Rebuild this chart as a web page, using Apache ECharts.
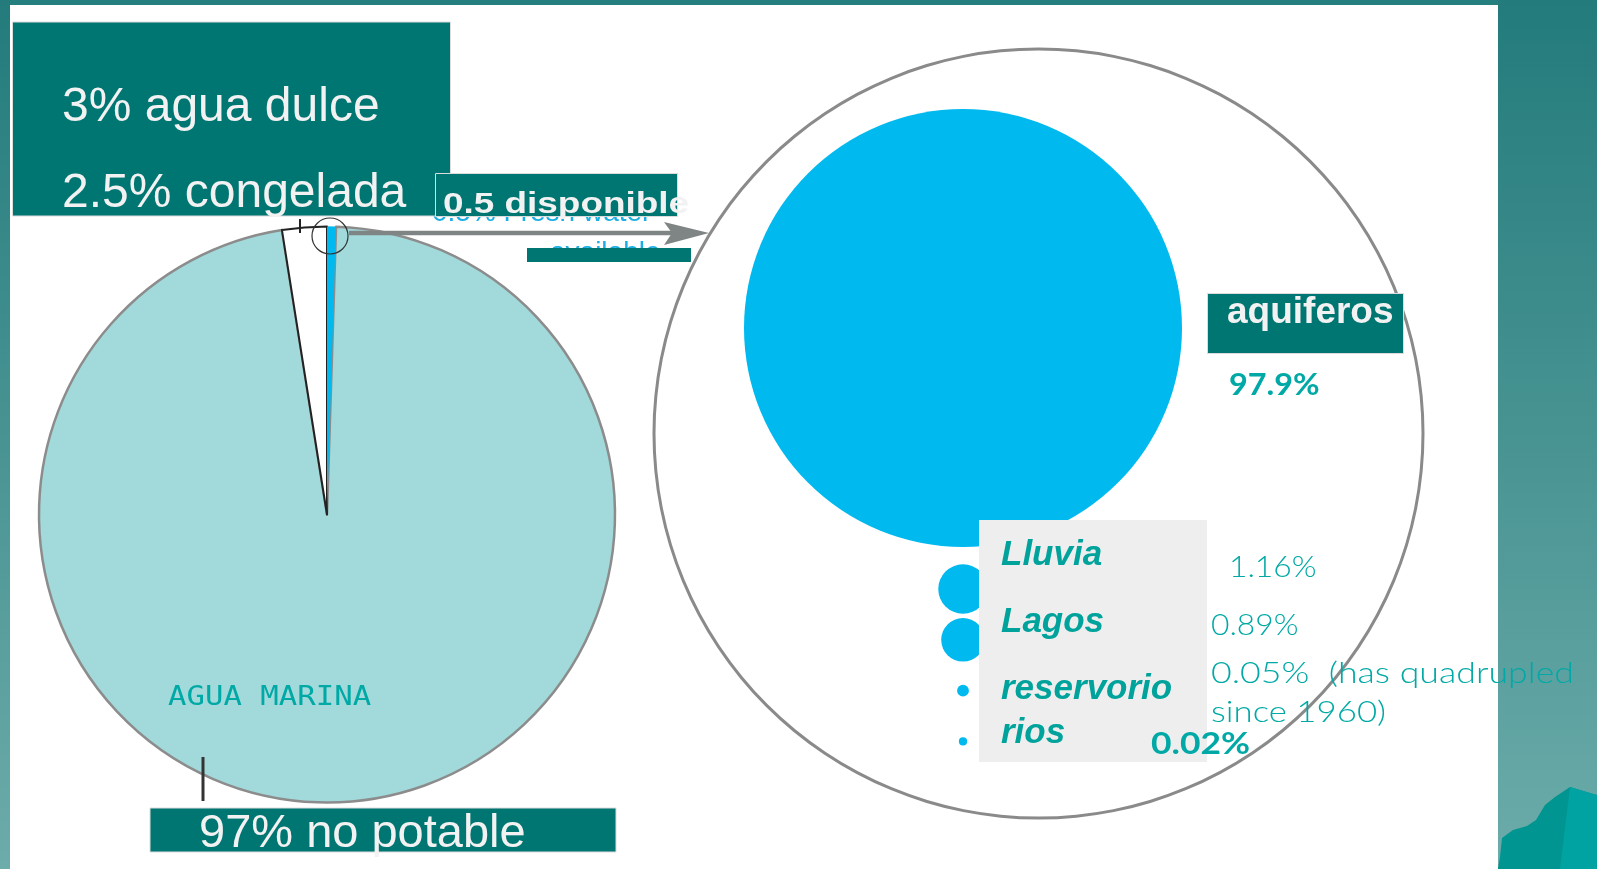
<!DOCTYPE html>
<html>
<head>
<meta charset="utf-8">
<script src="https://cdn.jsdelivr.net/npm/echarts@6.0.0/dist/echarts.min.js"></script>
<style>
  html, body { margin: 0; padding: 0; background: #fff; }
  #chart { width: 1597px; height: 869px; }
</style>
</head>
<body>
<div id="chart"></div>
<script>
  // left pie: all the water on earth (%)
  const waterNames = ["disponible", "AGUA MARINA", "congelada"];
  const waterValues = [0.5, 97, 2.5];
  // right bubbles: where the available fresh water is (%)
  const sourceNames = ["aquiferos", "Lluvia", "Lagos", "reservorio", "rios"];
  const sourceValues = [97.9, 1.16, 0.89, 0.05, 0.02];
  const reservoirNote = ["(has quadrupled", "since 1960)"];

  const TEAL = "#007673";
  const SEA = "#a2dadb";
  const BLUE = "#00b9ef";
  const TEXT_TEAL = "#00a9a6";

  const chart = echarts.init(document.getElementById("chart"));

  const fresh = waterValues[0] + waterValues[2];
  const bubbleSize = (d) => 436 * Math.sqrt(d[2] / sourceValues[0]) + 2;
  const pct = (v) => v + "%";

  const panelFill = () =>
    new echarts.graphic.LinearGradient(0, 0, 0, 1, [
      { offset: 0, color: "#237b7b" },
      { offset: 1, color: "#6cacaa" },
    ]);

  const txt = (text, x, y, size, opts) => ({
    type: "text",
    x: x,
    y: y,
    z: (opts && opts.z) || 10,
    scaleX: (opts && opts.scaleX) || 1,
    style: Object.assign(
      {
        text: text,
        x: 0,
        y: 0,
        fontSize: size,
        fontFamily: "Liberation Sans",
        fill: "#f2f2f2",
        verticalAlign: "middle",
        align: "left",
      },
      opts && opts.style
    ),
  });

  const italicStyle = { fill: "#00a39c", fontWeight: "bold", fontStyle: "italic" };
  const lightStyle = { fill: TEXT_TEAL, fontFamily: "Lato", fontWeight: 300 };

  const graphic = [
    // slide frame
    { type: "rect", z: 0, shape: { x: 0, y: 0, width: 1597, height: 5 }, style: { fill: "#267f7f" } },
    { type: "rect", z: 0, shape: { x: 0, y: 0, width: 10, height: 869 }, style: { fill: panelFill() } },
    { type: "rect", z: 0, shape: { x: 1498, y: 0, width: 99, height: 869 }, style: { fill: panelFill() } },
    {
      type: "polygon",
      z: 1,
      shape: {
        points: [[1498, 869], [1500, 857], [1502, 838], [1513, 830], [1527, 826], [1536, 820],
          [1545, 805], [1555, 797], [1570, 787], [1590, 793], [1597, 795], [1597, 869]],
      },
      style: { fill: "#009590" },
    },
    {
      type: "polygon",
      z: 1,
      shape: { points: [[1570, 787], [1590, 793], [1597, 795], [1597, 869], [1560, 869]] },
      style: { fill: "#00a3a2" },
    },

    // english caption, mostly hidden under the boxes
    txt("0.5% Fresh water", 432, 213, 28, { z: 4, style: { fill: "#1aaee5" } }),
    txt("available", 550, 253, 28, { z: 4, style: { fill: "#1aaee5" } }),

    // title boxes
    { type: "rect", z: 5, shape: { x: 12.5, y: 22, width: 438, height: 194 }, style: { fill: TEAL, stroke: "#dcdcdc", lineWidth: 1 } },
    { type: "rect", z: 5, shape: { x: 435.5, y: 173.5, width: 242, height: 43 }, style: { fill: TEAL, stroke: "#dcdcdc", lineWidth: 1 } },
    { type: "rect", z: 5, shape: { x: 527, y: 248, width: 164, height: 14 }, style: { fill: TEAL } },
    { type: "rect", z: 5, shape: { x: 150, y: 808, width: 466, height: 44 }, style: { fill: TEAL, stroke: "#dcdcdc", lineWidth: 1 } },
    { type: "rect", z: 5, shape: { x: 1207.5, y: 293.5, width: 196, height: 60 }, style: { fill: TEAL, stroke: "#dcdcdc", lineWidth: 1 } },
    { type: "rect", z: 5, shape: { x: 979, y: 520, width: 228, height: 242 }, style: { fill: "#eeeeee" } },

    // zoom marker and arrow from the pie to the detail circle
    { type: "circle", z: 6, shape: { cx: 330, cy: 236, r: 18 }, style: { fill: null, stroke: "#333", lineWidth: 1.2 } },
    { type: "line", z: 6, shape: { x1: 300, y1: 219, x2: 300, y2: 233 }, style: { stroke: "#222", lineWidth: 2 } },
    { type: "line", z: 6, shape: { x1: 349, y1: 233, x2: 672, y2: 233 }, style: { stroke: "#7f8485", lineWidth: 4.5 } },
    { type: "polygon", z: 6, shape: { points: [[664, 222], [709, 233], [664, 245], [672, 233]] }, style: { fill: "#7f8485" } },
    { type: "line", z: 6, shape: { x1: 203, y1: 757, x2: 203, y2: 801 }, style: { stroke: "#333", lineWidth: 3 } },

    // left pie captions
    txt(100 - waterValues[1] + "% agua dulce", 62, 108, 48),
    txt(waterValues[2] + "% " + waterNames[2], 62, 194, 48),
    txt(waterValues[0] + " " + waterNames[0], 443, 205, 30, { scaleX: 1.23, style: { fontWeight: "bold" } }),
    txt(waterValues[1] + "% no potable", 199, 834, 47),
    txt(waterNames[1], 168, 698, 26, { scaleX: 1.18, style: { fill: TEXT_TEAL, fontFamily: "DejaVu Sans Mono" } }),

    // right side captions
    txt(sourceNames[0], 1227, 313, 37, { style: { fontWeight: "bold" } }),
    txt(pct(sourceValues[0]), 1229, 385, 30, { scaleX: 1.08, style: { fill: TEXT_TEAL, fontWeight: "bold", fontFamily: "Lato" } }),
    txt(sourceNames[1], 1001, 555, 35, { style: italicStyle }),
    txt(sourceNames[2], 1001, 622, 35, { style: italicStyle }),
    txt(sourceNames[3], 1001, 689, 35, { style: italicStyle }),
    txt(sourceNames[4], 1001, 733, 35, { style: italicStyle }),
    txt(pct(sourceValues[1]), 1229, 567, 30, { scaleX: 1.06, style: lightStyle }),
    txt(pct(sourceValues[2]), 1211, 625, 30, { scaleX: 1.06, style: lightStyle }),
    txt(pct(sourceValues[3]) + "  " + reservoirNote[0], 1211, 673, 30, { scaleX: 1.19, style: lightStyle }),
    txt(reservoirNote[1], 1211, 712, 30, { scaleX: 1.16, style: lightStyle }),
    txt(pct(sourceValues[4]), 1151, 744, 30, { scaleX: 1.18, style: { fill: TEXT_TEAL, fontFamily: "Lato", fontWeight: "bold" } }),
  ];

  const pieData = (layer) =>
    waterNames.map((name, i) => {
      const item = { name: name, value: waterValues[i] };
      if (layer === "top") {
        item.itemStyle = { color: i === 0 ? BLUE : "transparent", borderWidth: 0 };
      } else if (i === 0) {
        item.itemStyle = { color: BLUE };
      } else if (i === 1) {
        item.itemStyle = { color: SEA, borderColor: "#8c8c8c", borderWidth: 2.5 };
      } else {
        item.itemStyle = { color: "#fff", borderColor: "#222", borderWidth: 2 };
      }
      return item;
    });

  const option = {
    animation: false,
    backgroundColor: "#fff",
    graphic: graphic,
    grid: [
      { left: 913, width: 100, top: 228, height: 200 },
      { left: 913, width: 100, top: 563.6, height: 203.3 },
    ],
    xAxis: [
      { gridIndex: 0, type: "value", min: -1, max: 1, show: false },
      { gridIndex: 1, type: "value", min: -1, max: 1, show: false },
    ],
    yAxis: [
      { gridIndex: 0, type: "category", data: sourceNames.slice(0, 1), show: false },
      { gridIndex: 1, type: "category", data: sourceNames.slice(1), inverse: true, show: false },
    ],
    series: [
      {
        type: "pie",
        center: [327, 514.5],
        radius: 288,
        startAngle: 90,
        silent: true,
        label: { show: false },
        labelLine: { show: false },
        data: pieData("base"),
      },
      {
        type: "pie",
        z: 3,
        center: [327, 514.5],
        radius: 288,
        startAngle: 90,
        silent: true,
        label: { show: false },
        labelLine: { show: false },
        data: pieData("top"),
      },
      {
        // outline of the detail circle
        type: "pie",
        center: [1038.5, 433.5],
        radius: [383, 386],
        silent: true,
        label: { show: false },
        data: [{ value: fresh, itemStyle: { color: "#8a8a8a" } }],
      },
      {
        type: "scatter",
        xAxisIndex: 0,
        yAxisIndex: 0,
        silent: true,
        symbolSize: bubbleSize,
        itemStyle: { color: BLUE, opacity: 1 },
        data: [[0, sourceNames[0], sourceValues[0]]],
      },
      {
        type: "scatter",
        xAxisIndex: 1,
        yAxisIndex: 1,
        silent: true,
        symbolSize: bubbleSize,
        itemStyle: { color: BLUE, opacity: 1 },
        data: sourceNames.slice(1).map((n, i) => [0, n, sourceValues[i + 1]]),
      },
    ],
  };

  chart.setOption(option);
</script>
</body>
</html>
